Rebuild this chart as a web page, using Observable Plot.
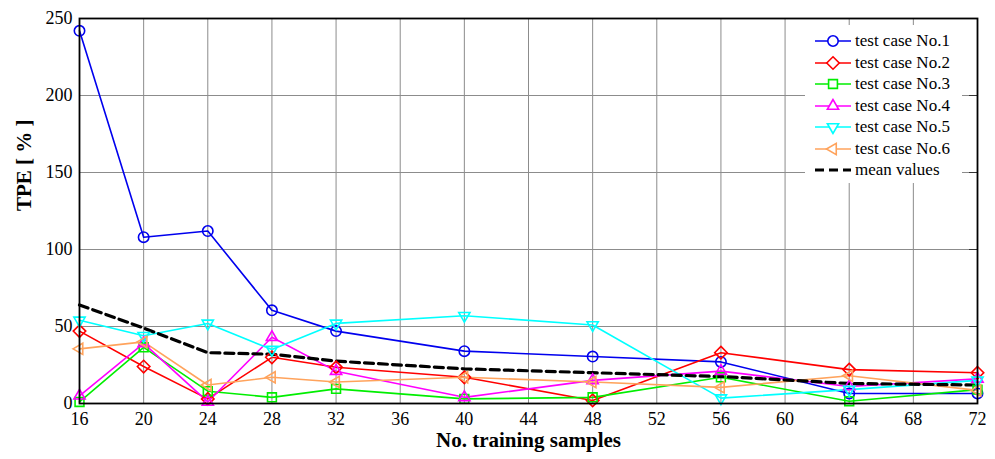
<!DOCTYPE html>
<html>
<head>
<meta charset="utf-8">
<script src="https://cdn.jsdelivr.net/npm/d3@7"></script>
<script src="https://cdn.jsdelivr.net/npm/@observablehq/plot@0.6"></script>
<style>
  html, body { margin: 0; padding: 0; background: #fff; }
  #wrap { position: relative; width: 995px; height: 459px; font-family: "Liberation Serif", "Times New Roman", serif; }
  #legend { position: absolute; left: 805px; top: 25px; width: 157px; height: 158px; background: #fff; }
  .row { position: absolute; left: 0; height: 20px; display: flex; align-items: center; font-size: 17px; color: #000; white-space: nowrap; }
  .row svg { margin-left: 9px; margin-right: 3px; }
</style>
</head>
<body>
<div id="wrap"><div id="legend"></div></div>
<script>
const samples = [16, 20, 24, 28, 32, 40, 48, 56, 64, 72];
const case1 = [242, 108, 112, 60.5, 47, 34, 30.5, 27, 6.5, 6.5];
const case2 = [47, 24, 3, 30, 23.5, 17, 2, 33, 22, 20];
const case3 = [1, 36.5, 8, 4, 9.5, 3, 4, 17, 1.5, 9];
const case4 = [5, 39, 1, 43, 21, 4, 15, 21, 11, 16];
const case5 = [54, 44, 52, 35, 52, 57, 51, 3.5, 9, 15];
const case6 = [35.5, 40, 12, 17, 14, 17, 14, 10.5, 18, 8.5];
const meanValues = [64, 49, 33, 32, 27.5, 22.5, 20, 17.5, 13, 12];
const seriesNames = ["test case No.1", "test case No.2", "test case No.3", "test case No.4", "test case No.5", "test case No.6"];
const xTicks = [16, 20, 24, 28, 32, 36, 40, 44, 48, 52, 56, 60, 64, 68, 72];
const yTicks = [0, 50, 100, 150, 200, 250];

const colors = ["#0000ee", "#ff0000", "#00ee00", "#ff00ff", "#00ffff", "#ffa35c"];

const triDown = { draw(ctx, size) { const R = Math.sqrt(size / Math.PI) * 1.25; ctx.moveTo(0, R); ctx.lineTo(-R * 0.866, -R / 2); ctx.lineTo(R * 0.866, -R / 2); ctx.closePath(); } };
const triUp = { draw(ctx, size) { const R = Math.sqrt(size / Math.PI) * 1.25; ctx.moveTo(0, -R); ctx.lineTo(-R * 0.866, R / 2); ctx.lineTo(R * 0.866, R / 2); ctx.closePath(); } };
const triLeft = { draw(ctx, size) { const R = Math.sqrt(size / Math.PI) * 1.25; ctx.moveTo(-R, 0); ctx.lineTo(R / 2, -R * 0.866); ctx.lineTo(R / 2, R * 0.866); ctx.closePath(); } };
const diamond = { draw(ctx, size) { const R = Math.sqrt(size / Math.PI) * 1.2; ctx.moveTo(0, -R); ctx.lineTo(R, 0); ctx.lineTo(0, R); ctx.lineTo(-R, 0); ctx.closePath(); } };
const square = { draw(ctx, size) { const h = Math.sqrt(size / Math.PI) * 0.85; ctx.rect(-h, -h, 2 * h, 2 * h); } };
const symbols = [d3.symbolCircle, diamond, square, triUp, triDown, triLeft];

const allCases = [case1, case2, case3, case4, case5, case6];
const rows = [];
allCases.forEach((vals, i) => vals.forEach((v, j) => rows.push({ series: seriesNames[i], idx: i, x: samples[j], y: v })));
const meanRows = samples.map((x, j) => ({ x, y: meanValues[j] }));

const marks = [
  Plot.gridX(xTicks, { stroke: "#8c8c8c", strokeOpacity: 1, strokeWidth: 1 }),
  Plot.gridY(yTicks, { stroke: "#8c8c8c", strokeOpacity: 1, strokeWidth: 1 }),
  Plot.axisX(xTicks, { tickSize: 0, tickPadding: 9, fontSize: 18, label: null }),
  Plot.axisY(yTicks, { tickSize: 0, tickPadding: 7, fontSize: 18, label: null }),
  Plot.axisY(yTicks, { anchor: "right", tickSize: -9, tickFormat: () => "", label: null, stroke: "#333" }),
];
allCases.forEach((vals, i) => {
  const data = rows.filter(d => d.idx === i);
  marks.push(Plot.line(data, { x: "x", y: "y", stroke: colors[i], strokeWidth: 1.6 }));
});
marks.push(Plot.line(meanRows, { x: "x", y: "y", stroke: "#000", strokeWidth: 3.2, strokeDasharray: "9,5" }));
allCases.forEach((vals, i) => {
  const data = rows.filter(d => d.idx === i);
  marks.push(Plot.dot(data, { x: "x", y: "y", stroke: colors[i], fill: "none", strokeWidth: 1.6, r: 5.2, symbol: () => symbols[i] }));
});
marks.push(Plot.frame({ stroke: "#000", strokeWidth: 1.8 }));
marks.push(Plot.text(["TPE [ % ]"], { frameAnchor: "left", dx: -55, rotate: -90, fontSize: 21, fontWeight: "bold", fill: "#000" }));
marks.push(Plot.text(["No. training samples"], { frameAnchor: "bottom", dy: 43, fontSize: 21, fontWeight: "bold", fill: "#000" }));

const chart = Plot.plot({
  width: 995,
  height: 459,
  marginLeft: 79,
  marginRight: 18,
  marginTop: 18,
  marginBottom: 56,
  style: { fontFamily: "Liberation Serif, Times New Roman, serif", fontSize: "18px", color: "#000", background: "#fff" },
  x: { domain: [16, 72] },
  y: { domain: [0, 250] },
  symbol: { type: "identity" },
  marks
});
document.getElementById("wrap").prepend(chart);

// legend
const legend = document.getElementById("legend");
const entries = seriesNames.map((n, i) => ({ name: n, color: colors[i], sym: symbols[i], dash: null }));
entries.push({ name: "mean values", color: "#000", sym: null, dash: "9,5" });
entries.forEach((e, i) => {
  const row = document.createElement("div");
  row.className = "row";
  row.style.top = (6 + i * 21.5) + "px";
  const svg = d3.create("svg").attr("width", 38).attr("height", 20);
  svg.append("line").attr("x1", 1).attr("x2", 37).attr("y1", 10).attr("y2", 10)
    .attr("stroke", e.color).attr("stroke-width", e.dash ? 3.2 : 1.6).attr("stroke-dasharray", e.dash);
  if (e.sym) {
    svg.append("path").attr("transform", "translate(19,10)")
      .attr("d", d3.symbol(e.sym, Math.PI * 5.2 * 5.2)())
      .attr("fill", "#fff").attr("stroke", e.color).attr("stroke-width", 1.6);
  }
  row.appendChild(svg.node());
  const span = document.createElement("span");
  span.textContent = e.name;
  row.appendChild(span);
  legend.appendChild(row);
});
</script>
</body>
</html>
